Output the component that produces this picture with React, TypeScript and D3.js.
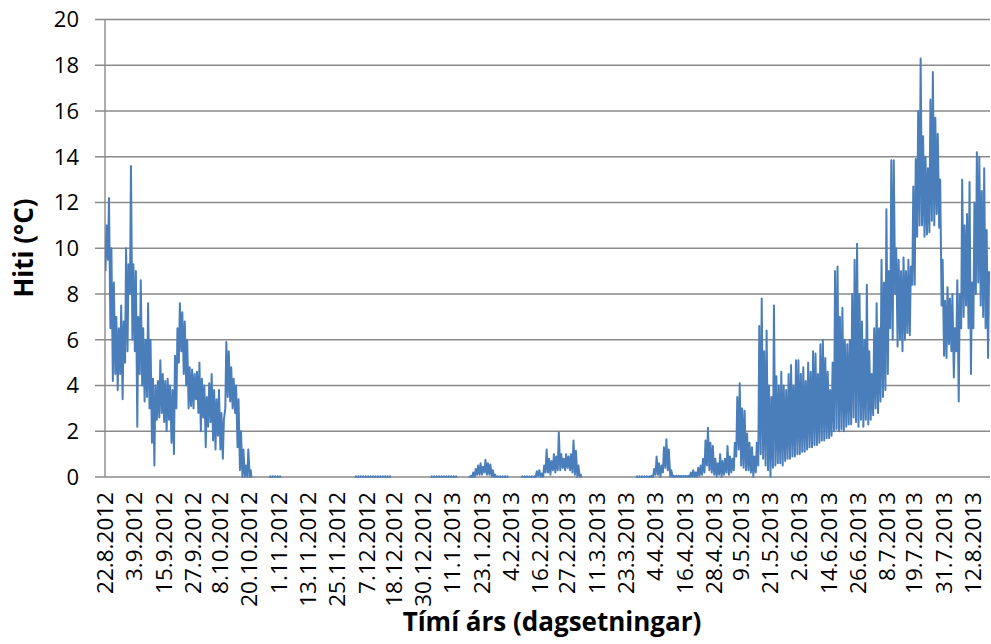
import { useEffect, useRef } from "react";
import * as d3 from "d3";

// daily readings, 22.8.2012 .. 18.8.2013 (one min and one max per day)
const startDate = "22.8.2012";
const endDate = "19.8.2013";

const tickLabels = [
  "22.8.2012", "3.9.2012", "15.9.2012", "27.9.2012", "8.10.2012", "20.10.2012",
  "1.11.2012", "13.11.2012", "25.11.2012", "7.12.2012", "18.12.2012", "30.12.2012",
  "11.1.2013", "23.1.2013", "4.2.2013", "16.2.2013", "27.2.2013", "11.3.2013",
  "23.3.2013", "4.4.2013", "16.4.2013", "28.4.2013", "9.5.2013", "21.5.2013",
  "2.6.2013", "14.6.2013", "26.6.2013", "8.7.2013", "19.7.2013", "31.7.2013",
  "12.8.2013",
];

const yTicks = [0, 2, 4, 6, 8, 10, 12, 14, 16, 18, 20];

const dailyMax = [
  11.0, 12.2, 10.0, 8.5, 7.0, 6.5, 7.5, 6.8, 10.0, 9.3,
  13.6, 9.3, 9.0, 7.0, 8.6, 6.5, 6.0, 7.6, 6.0, 4.3,
  4.0, 4.2, 5.1, 4.5, 4.2, 4.3, 4.0, 3.8, 5.3, 6.5,
  7.6, 7.2, 6.8, 6.0, 4.8, 4.7, 4.5, 4.6, 5.0, 4.3,
  4.0, 3.5, 4.1, 4.5, 3.8, 3.4, 3.8, 2.8, 2.5, 5.9,
  5.5, 4.8, 4.3, 4.0, 3.4, 2.0, 1.2, 0.5, 1.2, 0.3,
  -0.1, -0.1, -0.1, -0.1, -0.1, -0.1, -0.1, 0.03, 0.03, 0.03,
  0.03, 0.03, -0.1, -0.1, -0.1, -0.1, -0.1, -0.1, -0.1, -0.1,
  -0.1, -0.1, -0.1, -0.1, -0.1, -0.1, -0.1, -0.1, -0.1, -0.1,
  -0.1, -0.1, -0.1, -0.1, -0.1, -0.1, -0.1, -0.1, -0.1, -0.1,
  -0.1, -0.1, 0.03, 0.03, 0.03, 0.03, 0.03, 0.03, 0.03, 0.03,
  0.03, 0.03, 0.03, 0.03, 0.03, 0.03, 0.03, -0.1, -0.1, -0.1,
  -0.1, -0.1, -0.1, -0.1, -0.1, -0.1, -0.1, -0.1, -0.1, -0.1,
  -0.1, -0.1, -0.1, 0.03, 0.03, 0.03, 0.03, 0.03, 0.03, 0.03,
  0.03, 0.03, 0.03, 0.03, -0.1, -0.1, -0.1, -0.1, -0.1, 0.05,
  0.2, 0.35, 0.5, 0.6, 0.45, 0.75, 0.6, 0.55, 0.3, 0.1,
  0.03, 0.03, 0.03, 0.03, 0.03, -0.1, -0.1, -0.1, -0.1, -0.1,
  0.03, 0.03, 0.03, 0.03, 0.03, 0.03, 0.25, 0.3, 0.15, 0.5,
  1.2, 0.8, 0.7, 1.0, 0.9, 1.95, 1.0, 0.8, 1.0, 0.9,
  1.0, 1.6, 1.15, 0.5, 0.1, -0.1, -0.1, -0.1, -0.1, -0.1,
  -0.1, -0.1, -0.1, -0.1, -0.1, -0.1, -0.1, -0.1, -0.1, -0.1,
  -0.1, -0.1, -0.1, -0.1, -0.1, -0.1, -0.1, 0.03, 0.03, 0.03,
  0.03, 0.03, 0.03, 0.05, 0.35, 0.9, 0.6, 0.5, 1.3, 1.65,
  1.2, 0.3, 0.05, 0.05, 0.05, 0.05, 0.05, 0.05, 0.05, 0.2,
  0.3, 0.2, 0.4, 0.5, 0.8, 1.6, 2.15, 1.5, 1.35, 0.8,
  0.6, 1.0, 0.7, 0.8, 1.35, 0.9, 0.8, 1.5, 3.5, 4.1,
  3.0, 2.9, 1.9, 1.5, 1.3, 0.9, 1.5, 6.6, 7.8, 5.5,
  6.4, 4.0, 3.5, 7.5, 4.4, 4.0, 4.6, 4.0, 3.8, 4.5,
  4.9, 4.0, 5.1, 5.1, 4.5, 4.8, 4.2, 5.0, 4.6, 5.5,
  5.4, 4.5, 5.8, 6.0, 5.2, 4.6, 3.8, 5.0, 9.0, 9.2,
  7.0, 7.4, 6.0, 5.8, 6.0, 8.0, 9.5, 10.2, 8.0, 6.8,
  6.0, 8.4, 5.5, 4.5, 6.5, 7.6, 6.5, 9.5, 8.5, 11.7,
  9.0, 13.85, 13.85, 10.0, 9.5, 9.0, 9.6, 9.0, 9.5, 9.2,
  12.7, 13.9, 16.0, 18.3, 14.9, 14.0, 13.5, 16.5, 17.7, 15.7,
  15.0, 13.0, 9.5, 7.7, 8.3, 7.8, 8.0, 6.5, 8.6, 8.0,
  13.0, 11.0, 11.5, 12.9, 8.5, 12.0, 14.2, 14.0, 12.5, 13.5,
  10.8, 9.0,
];

const dailyMin = [
  9.0, 9.5, 6.5, 4.2, 4.5, 3.8, 4.5, 3.4, 5.0, 5.5,
  8.0, 6.0, 5.5, 2.2, 4.5, 4.0, 3.3, 3.5, 3.0, 1.5,
  0.5, 2.5, 2.6, 2.8, 2.4, 2.0, 2.5, 1.5, 1.0, 3.0,
  5.0, 5.5, 4.5, 4.0, 3.0, 3.1, 3.0, 3.4, 2.8, 2.0,
  2.6, 1.3, 2.2, 2.4, 1.6, 1.2, 1.8, 1.2, 0.8, 3.0,
  3.5, 3.3, 3.0, 2.8, 1.3, 0.3, 0.0, 0.0, 0.0, 0.0,
  -0.4, -0.4, -0.4, -0.4, -0.4, -0.4, -0.4, -0.2, -0.2, -0.2,
  -0.2, -0.2, -0.5, -0.5, -0.5, -0.5, -0.5, -0.5, -0.5, -0.5,
  -0.5, -0.5, -0.5, -0.5, -0.5, -0.5, -0.5, -0.5, -0.5, -0.5,
  -0.5, -0.5, -0.5, -0.5, -0.5, -0.5, -0.5, -0.5, -0.5, -0.5,
  -0.5, -0.5, -0.2, -0.2, -0.2, -0.2, -0.2, -0.2, -0.2, -0.2,
  -0.2, -0.2, -0.2, -0.2, -0.2, -0.2, -0.2, -0.6, -0.6, -0.6,
  -0.6, -0.6, -0.6, -0.6, -0.6, -0.6, -0.6, -0.6, -0.6, -0.6,
  -0.6, -0.6, -0.6, -0.2, -0.2, -0.2, -0.2, -0.2, -0.2, -0.2,
  -0.2, -0.2, -0.2, -0.2, -0.4, -0.4, -0.4, -0.4, -0.4, 0.0,
  0.0, 0.0, 0.1, 0.1, 0.1, 0.2, 0.1, 0.1, 0.0, 0.0,
  -0.1, -0.1, -0.1, -0.1, -0.1, -0.4, -0.4, -0.4, -0.4, -0.4,
  -0.1, -0.1, -0.1, -0.1, -0.1, -0.1, 0.0, 0.05, 0.0, 0.0,
  0.2, 0.2, 0.1, 0.3, 0.2, 0.3, 0.3, 0.4, 0.3, 0.4,
  0.3, 0.2, 0.1, 0.0, 0.0, -0.5, -0.5, -0.5, -0.5, -0.5,
  -0.5, -0.5, -0.5, -0.5, -0.5, -0.5, -0.5, -0.5, -0.5, -0.5,
  -0.5, -0.5, -0.5, -0.5, -0.5, -0.5, -0.5, -0.1, -0.1, -0.1,
  -0.1, -0.1, -0.1, 0.0, 0.0, 0.1, 0.1, 0.0, 0.2, 0.4,
  0.3, 0.0, 0.0, 0.0, 0.0, 0.0, 0.0, 0.0, 0.0, 0.0,
  0.0, 0.0, 0.0, 0.05, 0.1, 0.2, 0.5, 0.3, 0.2, 0.1,
  0.0, 0.1, 0.0, 0.1, 0.2, 0.1, 0.2, 0.3, 0.9, 1.2,
  0.5, 0.4, 0.3, 0.3, 0.2, 0.0, 0.2, 0.5, 1.0, 0.8,
  0.5, 0.3, 0.0, 0.4, 0.5, 0.6, 0.6, 0.5, 0.7, 0.8,
  0.8, 0.9, 0.9, 1.0, 1.0, 1.1, 1.1, 1.2, 1.3, 1.3,
  1.4, 1.4, 1.5, 1.6, 1.6, 1.7, 1.7, 1.8, 2.0, 2.1,
  2.0, 2.1, 2.0, 2.2, 2.3, 2.3, 2.6, 2.4, 2.2, 2.5,
  2.2, 2.5, 2.3, 2.5, 2.7, 3.0, 2.8, 3.3, 3.5, 3.8,
  4.5, 6.5, 6.0, 8.0, 5.7, 6.0, 5.5, 6.0, 6.3, 6.2,
  8.4, 8.4, 10.5, 11.0, 11.0, 10.5, 10.6, 10.7, 11.2, 11.0,
  11.5, 10.9, 7.5, 5.3, 5.2, 5.8, 5.5, 4.35, 5.5, 3.3,
  6.5, 7.0, 7.5, 6.5, 4.5, 6.5, 8.0, 8.5, 7.5, 7.0,
  6.5, 5.2,
];

const font = "'Open Sans', 'Noto Sans', sans-serif";

function Chart() {
  const ref = useRef<SVGSVGElement>(null);

  useEffect(() => {
    document.body.style.margin = "0";
    const left = 105;
    const right = 990;
    const top = 19.5;
    const bottom = 477;

    const parse = d3.timeParse("%d.%m.%Y");
    const t0 = parse(startDate)!;

    const svg = d3.select(ref.current);
    svg.selectAll("*").remove();

    const x = d3.scaleTime()
      .domain([t0, parse(endDate)!])
      .range([left, right]);
    const y = d3.scaleLinear().domain([0, 20]).range([bottom, top]);

    // gridlines + small tick marks on the left
    svg.append("g")
      .selectAll("line")
      .data(yTicks)
      .join("line")
      .attr("x1", left - 10)
      .attr("x2", right)
      .attr("y1", d => y(d))
      .attr("y2", d => y(d))
      .attr("stroke", "#8a8a8a")
      .attr("stroke-width", 1.4);

    svg.append("line")
      .attr("x1", left).attr("x2", left)
      .attr("y1", top).attr("y2", bottom)
      .attr("stroke", "#8a8a8a")
      .attr("stroke-width", 1.4);

    svg.append("g")
      .selectAll("text")
      .data(yTicks)
      .join("text")
      .attr("x", 79)
      .attr("y", d => y(d))
      .attr("dy", "0.36em")
      .attr("text-anchor", "end")
      .attr("font-family", font)
      .attr("font-size", 22)
      .text(d => d);

    // series: each day's min then max
    const points: [Date, number][] = [];
    dailyMax.forEach((mx, i) => {
      points.push([d3.timeHour.offset(d3.timeDay.offset(t0, i), 5), dailyMin[i]]);
      points.push([d3.timeHour.offset(d3.timeDay.offset(t0, i), 15), mx]);
    });

    svg.append("clipPath")
      .attr("id", "plotClip")
      .append("rect")
      .attr("x", left)
      .attr("y", 0)
      .attr("width", right - left + 1)
      .attr("height", bottom + 0.8);

    const line = d3.line<[Date, number]>()
      .x(d => x(d[0]))
      .y(d => y(d[1]));

    svg.append("path")
      .datum(points)
      .attr("clip-path", "url(#plotClip)")
      .attr("d", line)
      .attr("fill", "none")
      .attr("stroke", "#4a7ebb")
      .attr("stroke-width", 2)
      .attr("stroke-linejoin", "round");

    // rotated date labels
    svg.append("g")
      .selectAll("text")
      .data(tickLabels)
      .join("text")
      .attr("transform", d => `translate(${x(parse(d)!)},492) rotate(-90)`)
      .attr("dy", "0.36em")
      .attr("text-anchor", "end")
      .attr("font-family", font)
      .attr("font-size", 22.5)
      .text(d => d);

    svg.append("text")
      .attr("transform", "translate(24,248) rotate(-90)")
      .attr("dy", "0.36em")
      .attr("text-anchor", "middle")
      .attr("font-family", font)
      .attr("font-weight", "bold")
      .attr("font-size", 26)
      .text("Hiti (°C)");

    svg.append("text")
      .attr("x", 552)
      .attr("y", 631)
      .attr("text-anchor", "middle")
      .attr("font-family", font)
      .attr("font-weight", "bold")
      .attr("font-size", 26)
      .text("Tímí árs (dagsetningar)");
  }, []);

  return <svg ref={ref} width={991} height={644} style={{ display: "block", background: "#fff" }} />;
}

export default function App() {
  return <Chart />;
}
